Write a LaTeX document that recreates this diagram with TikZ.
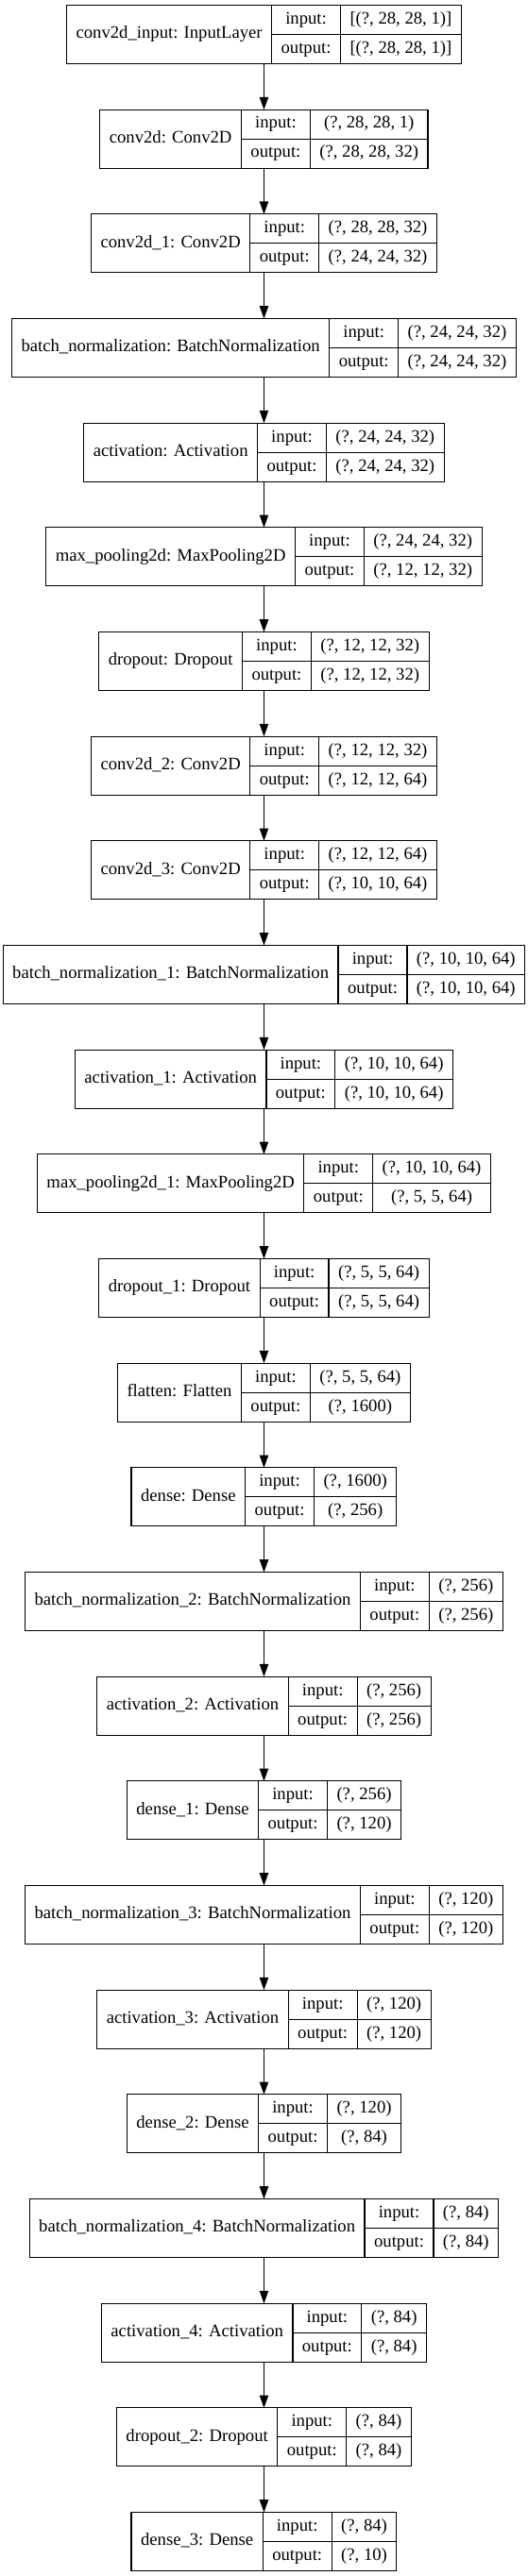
\documentclass[tikz,border=0pt]{standalone}
\usepackage{fontspec}
\setmainfont{Liberation Serif}
\usetikzlibrary{arrows.meta}
\newlength\labw
\newlength\iow
\newlength\shpw
\newlength\tmpw
\newcommand\lfont{\fontsize{14pt}{17pt}\selectfont}
\tikzstyle{record} = [rectangle, minimum height=46.5pt, inner sep=0pt, outer sep=0pt]
\tikzstyle{labcell} = [rectangle, draw=black, line width=0.9pt, minimum height=46.5pt, inner sep=0pt, outer sep=0pt, font=\lfont, text height=9.5pt, text depth=3pt]
\tikzstyle{cell} = [rectangle, draw=black, line width=0.9pt, minimum height=23.25pt, inner sep=0pt, outer sep=0pt, font=\lfont, text height=9.5pt, text depth=3pt]
% one layer: name, row, label, input shape, output shape
\newcommand\layer[5]{%
  \pgfinterruptpicture\lfont
    \settowidth{\labw}{#3}\global\labw=\dimexpr\labw+15pt\relax
    \settowidth{\iow}{output:}\global\iow=\dimexpr\iow+15pt\relax
    \settowidth{\shpw}{#4}\settowidth{\tmpw}{#5}%
    \ifdim\tmpw>\shpw \shpw=\tmpw\fi
    \global\shpw=\dimexpr\shpw+15pt\relax
  \endpgfinterruptpicture
  \pgfmathsetmacro\cy{-(27.375+83.0*#2)}%
  \node (#1) [record, minimum width=\labw+\iow+\shpw] at (209.6pt,\cy pt) {};
  \node (#1-l) [labcell, anchor=west, minimum width=\labw] at (#1.west) {#3};
  \node (#1-i) [cell, anchor=south west, minimum width=\iow] at (#1-l.east) {input:};
  \node (#1-o) [cell, anchor=north west, minimum width=\iow] at (#1-l.east) {output:};
  \node (#1-a) [cell, anchor=west, minimum width=\shpw] at (#1-i.east) {#4};
  \node (#1-b) [cell, anchor=west, minimum width=\shpw] at (#1-o.east) {#5};
}

\begin{document}
\begin{tikzpicture}[>={Triangle[length=10pt,width=7pt]}]
\useasboundingbox (0pt,0pt) rectangle (419.25pt,-2046.75pt);
\layer{input}{0}{conv2d\_input: InputLayer}{[(?, 28, 28, 1)]}{[(?, 28, 28, 1)]}
\layer{conv0}{1}{conv2d: Conv2D}{(?, 28, 28, 1)}{(?, 28, 28, 32)}
\layer{conv1}{2}{conv2d\_1: Conv2D}{(?, 28, 28, 32)}{(?, 24, 24, 32)}
\layer{bn0}{3}{batch\_normalization: BatchNormalization}{(?, 24, 24, 32)}{(?, 24, 24, 32)}
\layer{act0}{4}{activation: Activation}{(?, 24, 24, 32)}{(?, 24, 24, 32)}
\layer{pool0}{5}{max\_pooling2d: MaxPooling2D}{(?, 24, 24, 32)}{(?, 12, 12, 32)}
\layer{drop0}{6}{dropout: Dropout}{(?, 12, 12, 32)}{(?, 12, 12, 32)}
\layer{conv2}{7}{conv2d\_2: Conv2D}{(?, 12, 12, 32)}{(?, 12, 12, 64)}
\layer{conv3}{8}{conv2d\_3: Conv2D}{(?, 12, 12, 64)}{(?, 10, 10, 64)}
\layer{bn1}{9}{batch\_normalization\_1: BatchNormalization}{(?, 10, 10, 64)}{(?, 10, 10, 64)}
\layer{act1}{10}{activation\_1: Activation}{(?, 10, 10, 64)}{(?, 10, 10, 64)}
\layer{pool1}{11}{max\_pooling2d\_1: MaxPooling2D}{(?, 10, 10, 64)}{(?, 5, 5, 64)}
\layer{drop1}{12}{dropout\_1: Dropout}{(?, 5, 5, 64)}{(?, 5, 5, 64)}
\layer{flat}{13}{flatten: Flatten}{(?, 5, 5, 64)}{(?, 1600)}
\layer{dense0}{14}{dense: Dense}{(?, 1600)}{(?, 256)}
\layer{bn2}{15}{batch\_normalization\_2: BatchNormalization}{(?, 256)}{(?, 256)}
\layer{act2}{16}{activation\_2: Activation}{(?, 256)}{(?, 256)}
\layer{dense1}{17}{dense\_1: Dense}{(?, 256)}{(?, 120)}
\layer{bn3}{18}{batch\_normalization\_3: BatchNormalization}{(?, 120)}{(?, 120)}
\layer{act3}{19}{activation\_3: Activation}{(?, 120)}{(?, 120)}
\layer{dense2}{20}{dense\_2: Dense}{(?, 120)}{(?, 84)}
\layer{bn4}{21}{batch\_normalization\_4: BatchNormalization}{(?, 84)}{(?, 84)}
\layer{act4}{22}{activation\_4: Activation}{(?, 84)}{(?, 84)}
\layer{drop2}{23}{dropout\_2: Dropout}{(?, 84)}{(?, 84)}
\layer{dense3}{24}{dense\_3: Dense}{(?, 84)}{(?, 10)}

\draw [->, line width=0.9pt] (input) -- (conv0);
\draw [->, line width=0.9pt] (conv0) -- (conv1);
\draw [->, line width=0.9pt] (conv1) -- (bn0);
\draw [->, line width=0.9pt] (bn0) -- (act0);
\draw [->, line width=0.9pt] (act0) -- (pool0);
\draw [->, line width=0.9pt] (pool0) -- (drop0);
\draw [->, line width=0.9pt] (drop0) -- (conv2);
\draw [->, line width=0.9pt] (conv2) -- (conv3);
\draw [->, line width=0.9pt] (conv3) -- (bn1);
\draw [->, line width=0.9pt] (bn1) -- (act1);
\draw [->, line width=0.9pt] (act1) -- (pool1);
\draw [->, line width=0.9pt] (pool1) -- (drop1);
\draw [->, line width=0.9pt] (drop1) -- (flat);
\draw [->, line width=0.9pt] (flat) -- (dense0);
\draw [->, line width=0.9pt] (dense0) -- (bn2);
\draw [->, line width=0.9pt] (bn2) -- (act2);
\draw [->, line width=0.9pt] (act2) -- (dense1);
\draw [->, line width=0.9pt] (dense1) -- (bn3);
\draw [->, line width=0.9pt] (bn3) -- (act3);
\draw [->, line width=0.9pt] (act3) -- (dense2);
\draw [->, line width=0.9pt] (dense2) -- (bn4);
\draw [->, line width=0.9pt] (bn4) -- (act4);
\draw [->, line width=0.9pt] (act4) -- (drop2);
\draw [->, line width=0.9pt] (drop2) -- (dense3);
\end{tikzpicture}
\end{document}
